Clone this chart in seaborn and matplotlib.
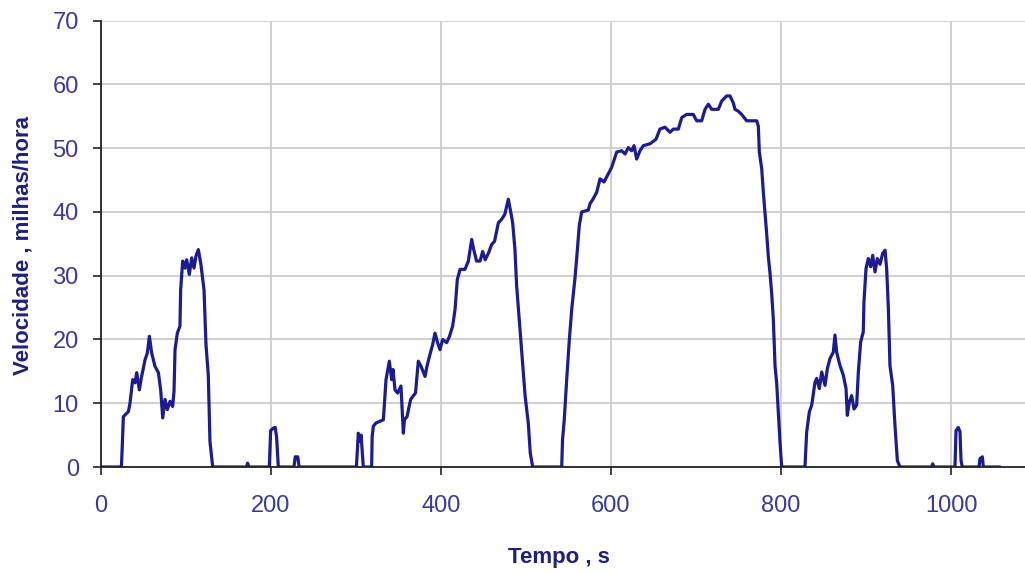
import matplotlib
matplotlib.use("Agg")
import matplotlib.pyplot as plt
import seaborn as sns
import pandas as pd

# ---- data ----
tempo_s = [
    0, 24, 25, 26.3, 32.2, 34.1, 37.3, 40, 42, 45.1, 47.8, 51.8, 54.5, 56.9, 59.6, 63.5,
    67.5, 70.2, 72.6, 75.3, 78, 81.2, 84.3, 85.9, 87.1, 89.8, 92.9, 93.7, 96.1, 98.8,
    100.8, 103.9, 106.7, 109.4, 111.8, 114.5, 117.3, 121.2, 123.5, 126.2, 128.2, 131.4,
    171, 172.5, 174, 198, 199.6, 202.7, 205, 206.7, 208.6, 227, 228.5, 231.5, 233,
    300.5, 302.7, 304.5, 306, 308.6, 318.4, 319, 320.4, 323.5, 332.2, 335.3, 339.2, 342,
    343.5, 345.9, 349, 352.9, 355.7, 357, 360, 364.3, 367, 370, 373.3, 376.5, 381.2,
    383.5, 386.5, 390.2, 392.9, 396, 398.8, 402, 406.7, 410, 413.7, 416.5, 419.2, 422.4,
    428.2, 432.2, 436.1, 438.5, 441.9, 446, 449, 452, 456, 459.6, 463, 467.5, 471, 475,
    479.2, 481.5, 484.3, 487, 489, 492.9, 496.1, 499, 502.7, 505, 507.9,
    542, 543, 545, 548, 551, 554, 557.6, 559.6, 562.7, 565.5, 573.3, 575.3, 579.2, 583.2,
    587.1, 591.8, 595.7, 600.8, 606.7, 612.6, 616.5, 620.4, 624.3, 627.1, 630.2, 634.1,
    638, 645.9, 652.9, 657.6, 663.5, 669.4, 673.3, 679.2, 683.2, 689, 696.8, 700.8,
    706.7, 710.6, 714.5, 718.5, 726.3, 730.2, 736.1, 740, 743.9, 745.9, 749.8, 753.7,
    759.6, 771.4, 773.3, 774.5, 777.3, 779.2, 781.2, 783.1, 785.1, 787, 789, 791, 793,
    794.9, 796.9, 798.8, 800.8,
    828.2, 830.2, 833.3, 836.1, 840, 842, 845.1, 847.9, 851.8, 854.5, 857.6, 861.5,
    863.5, 865.5, 869.4, 873.3, 876.5, 878, 880.4, 883.1, 885.9, 889, 891, 893.7, 896.8,
    897.6, 900, 902.7, 905.5, 907.9, 910.6, 913.3, 916.5, 919.6, 922.4, 924.3, 926.3,
    928.2, 931.4, 934.1, 936.9, 940, 977, 978.5, 980, 1004.7, 1005.9, 1008.6, 1010.6,
    1011.8, 1013.3, 1033, 1034.1, 1036.9, 1038, 1057.6,
]
velocidade_mph = [
    0, 0, 3.2, 7.9, 8.7, 10, 13.7, 13.2, 14.8, 12.1, 14.2, 16.8, 17.9, 20.5, 17.9, 15.8,
    14.8, 12.1, 7.7, 10.6, 9, 10.3, 9.5, 11.9, 18.4, 21, 22.1, 27.8, 32.3, 31.2,
    32.5, 30.2, 32.8, 31.2, 33.1, 34.1, 32, 27.8, 19.2, 14.5, 4, 0,
    0, 0.6, 0, 0, 5.7, 6.1, 6.2, 4.5, 0, 0, 1.6, 1.6, 0,
    0, 5.3, 4, 5, 0, 0, 4.7, 6.4, 6.9, 7.4, 13.7, 16.6, 13.7,
    15.3, 12.1, 11.6, 12.7, 5.3, 7.4, 7.9, 10.6, 11.1, 11.6, 16.6, 15.8, 14.2,
    15.8, 17.4, 19.2, 21, 19.5, 18.4, 20, 19.5, 20.5, 22.1, 24.7, 29.4, 31,
    31, 32.3, 35.7, 34.1, 32.3, 32.3, 33.8, 32.5, 33.6, 34.9, 35.4, 38.3, 38.8, 39.6,
    42, 40.4, 38.3, 34.1, 28.4, 21.6, 15.8, 11.1, 6.9, 2.2, 0,
    0, 4.3, 7.4, 14, 20, 25, 29.6, 32.7, 37.9, 40, 40.3, 41.3, 42.1, 43.1,
    45.2, 44.7, 45.7, 47, 49.4, 49.6, 49.1, 50.1, 49.6, 50.4, 48.3, 49.6,
    50.4, 50.7, 51.4, 53, 53.3, 52.5, 53, 53, 54.8, 55.3, 55.3, 54.3,
    54.3, 56.1, 56.9, 56.1, 56.1, 57.4, 58.2, 58.2, 57.1, 56.1, 55.8, 55.3,
    54.3, 54.3, 53.5, 49.4, 46.8, 43.1, 39.9, 36.7, 33, 30.5, 27.3, 23.1, 15.8,
    13.2, 8.5, 4, 0,
    0, 5.5, 8.6, 9.7, 13.3, 13.9, 12.3, 14.9, 12.8, 15.4, 17, 18,
    20.7, 18, 15.9, 14.4, 12.3, 8.1, 10.2, 11.2, 9.1, 9.7, 14.9, 19.6, 21.2,
    25.9, 31.1, 32.7, 31.4, 33.2, 30.6, 32.7, 31.8, 33.5, 34, 31.1, 24.9,
    15.9, 12.8, 6.5, 1, 0, 0, 0.5, 0, 0, 5.7, 6.2, 5.5,
    1, 0, 0, 1.3, 1.6, 0, 0,
]
x_ticks = [0, 200, 400, 600, 800, 1000]
y_ticks = [0, 10, 20, 30, 40, 50, 60, 70]
x_label = "Tempo , s"
y_label = "Velocidade , milhas/hora"

df = pd.DataFrame({"t": tempo_s, "v": velocidade_mph})

sns.set_theme(style="white")
plt.rcParams["font.family"] = ["Liberation Sans", "DejaVu Sans"]

W, H = 1025, 574
fig = plt.figure(figsize=(W / 100, H / 100), dpi=100)
ax = fig.add_axes([101 / W, 1 - 467 / H, (W - 101) / W, (467 - 20.7) / H])

sns.lineplot(data=df, x="t", y="v", ax=ax, color="#1c1c90", linewidth=2.3,
             sort=False, estimator=None)

ax.set_xlim(0, (W - 101) / 0.85)
ax.set_ylim(0, 70)
ax.set_xticks(x_ticks)
ax.set_yticks(y_ticks)
ax.grid(True, color="#cfcfcf", linewidth=1.4)
ax.set_axisbelow(True)

for s in ["top", "right"]:
    ax.spines[s].set_visible(False)
for s in ["left", "bottom"]:
    ax.spines[s].set_visible(True)
    ax.spines[s].set_color("#222222")
    ax.spines[s].set_linewidth(1.3)

tick_col = "#3a3a9c"
ax.tick_params(axis="x", direction="out", length=6, width=1.2, color="#222222",
               pad=14, labelsize=17, labelcolor=tick_col, bottom=True)
ax.tick_params(axis="y", direction="out", length=6, width=1.2, color="#222222",
               pad=10, labelsize=17, labelcolor=tick_col, left=True)

lab_col = "#1f1f80"
ax.set_xlabel(x_label, fontsize=16, fontweight="bold", color=lab_col)
ax.set_ylabel(y_label, fontsize=16, fontweight="bold", color=lab_col)
ax.xaxis.set_label_coords((559 - 101) / 924, -0.18)
ax.yaxis.set_label_coords(-0.073, 0.497)

fig.savefig("out.png", dpi=100)
